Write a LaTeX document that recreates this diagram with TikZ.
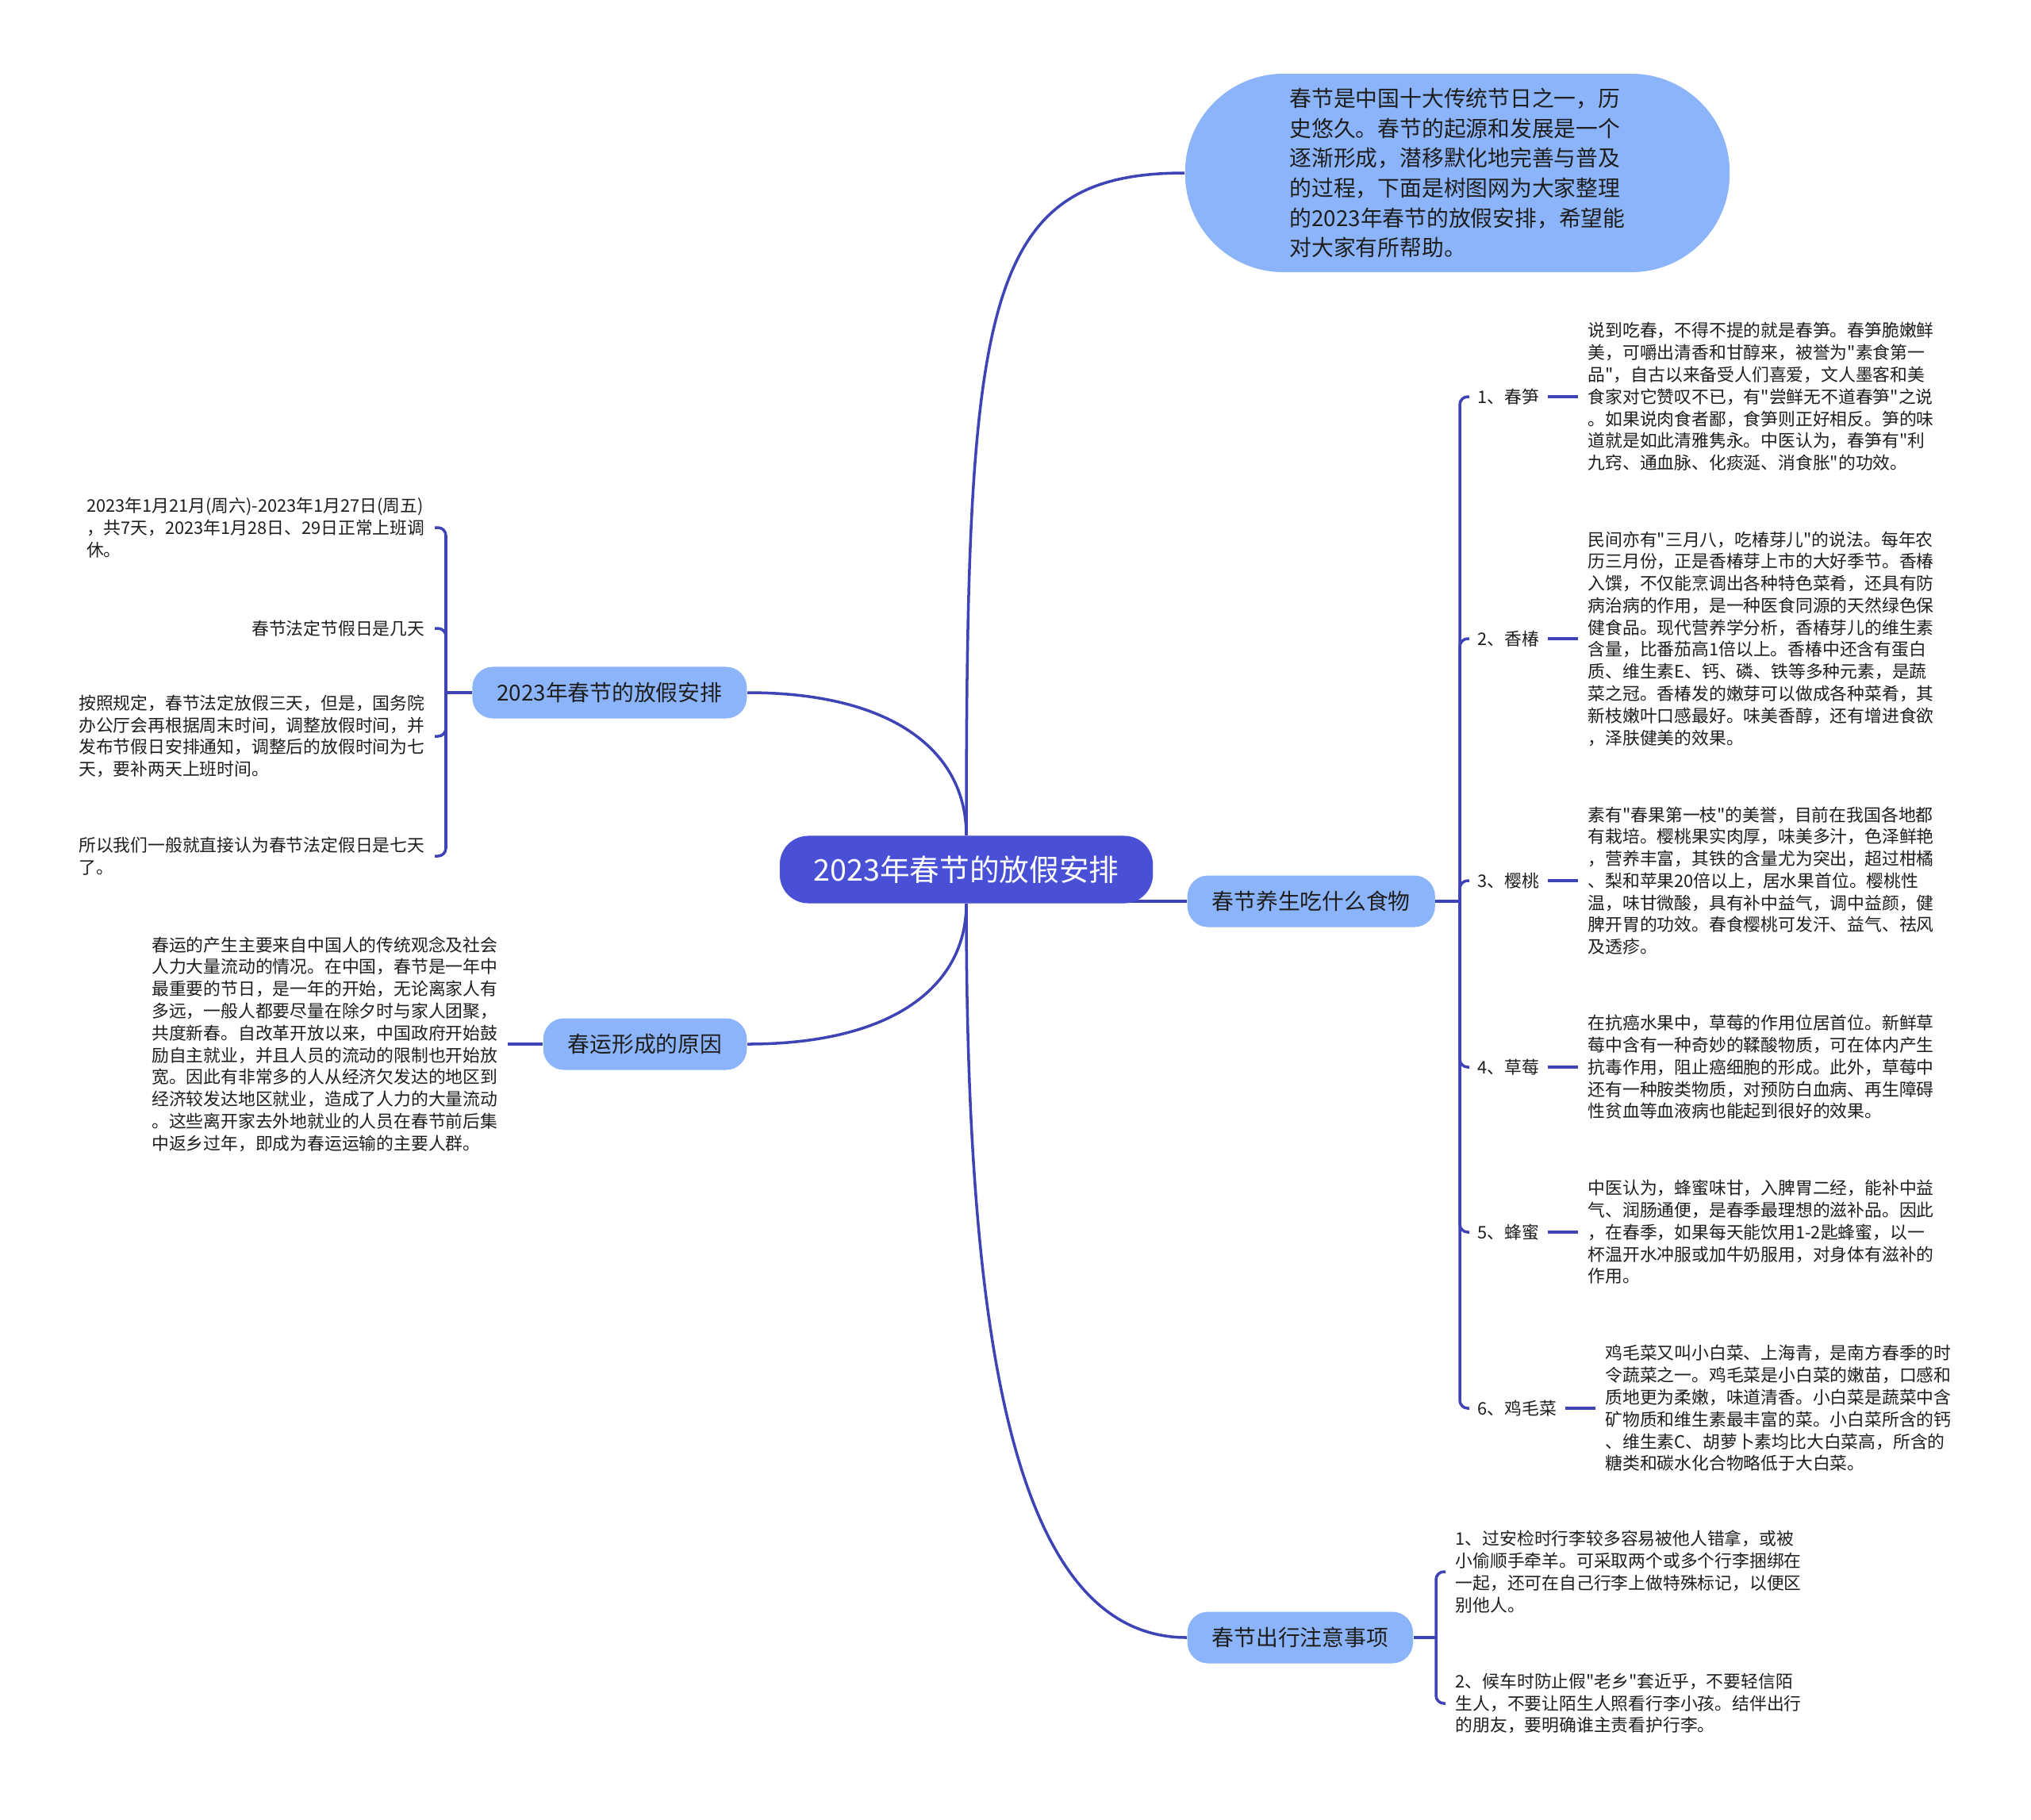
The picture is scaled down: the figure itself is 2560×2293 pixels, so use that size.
\documentclass[tikz,border=0pt]{standalone}
\usepackage{fontspec}
\setmainfont{Noto Sans CJK SC}[Ligatures=TeXOff]
\usetikzlibrary{positioning,backgrounds}
\definecolor{rootblue}{RGB}{74,80,214}
\definecolor{topicblue}{RGB}{140,180,250}
\definecolor{linkblue}{RGB}{62,68,182}
\definecolor{inktext}{RGB}{30,30,30}

\begin{document}
\begin{tikzpicture}[
    x=0.01cm, y=-0.01cm,
    rootnode/.style={
        fill=rootblue, text=white, rounded corners=0.36cm,
        minimum width=4.7cm, minimum height=0.85cm,
        font=\fontsize{10.7}{12}\selectfont
    },
    topic/.style={
        fill=topicblue, text=inktext, rounded corners=0.26cm,
        minimum height=0.65cm, inner xsep=0.31cm,
        font=\fontsize{7.9}{9.5}\selectfont
    },
    introbox/.style={
        fill=topicblue, text=inktext, rounded corners=1.24cm,
        minimum width=6.86cm, minimum height=2.5cm, align=left,
        font=\fontsize{7.9}{10.7}\selectfont
    },
    itemlabel/.style={
        inner xsep=0.1cm, inner ysep=0.02cm, text=inktext,
        font=\fontsize{6.2}{7.9}\selectfont
    },
    leaftext/.style={
        inner xsep=0.12cm, inner ysep=0.02cm, align=left, text=inktext,
        font=\fontsize{6.2}{7.9}\selectfont
    },
    link/.style={draw=linkblue, line width=1pt},
    fork/.style={link, rounded corners=0.1cm},
]
\useasboundingbox (0,0) rectangle (2560,2293);

% ── Root ──
\node[rootnode] (root) at (1218,1096) {2023年春节的放假安排};

% ── Intro bubble ──
\node[introbox] (intro) at (1837,218) {
    春节是中国十大传统节日之一，历\\
    史悠久。春节的起源和发展是一个\\
    逐渐形成，潜移默化地完善与普及\\
    的过程，下面是树图网为大家整理\\
    的2023年春节的放假安排，希望能\\
    对大家有所帮助。
};

% ── Topics ──
\node[topic, anchor=east] (sched) at (942,873) {2023年春节的放假安排};
\node[topic, anchor=east] (rush) at (942,1316) {春运形成的原因};
\node[topic, anchor=west] (food) at (1496,1136) {春节养生吃什么食物};
\node[topic, anchor=west] (travel) at (1496,2064) {春节出行注意事项};

% ── Holiday schedule leaves ──
\coordinate (schedfork) at (562,873);
\node[leaftext, anchor=east] (dates) at (548,665) {
    2023年1月21月(周六)-2023年1月27日(周五)\\
    ，共7天，2023年1月28日、29日正常上班调\\
    休。
};
\node[leaftext, anchor=east] (howmany) at (548,792) {春节法定节假日是几天};
\node[leaftext, anchor=east] (rule) at (548,928) {
    按照规定，春节法定放假三天，但是，国务院\\
    办公厅会再根据周末时间，调整放假时间，并\\
    发布节假日安排通知，调整后的放假时间为七\\
    天，要补两天上班时间。
};
\node[leaftext, anchor=east] (seven) at (548,1079) {
    所以我们一般就直接认为春节法定假日是七天\\
    了。
};

% ── Spring rush leaf ──
\node[leaftext, anchor=east] (rushtxt) at (640,1316) {
    春运的产生主要来自中国人的传统观念及社会\\
    人力大量流动的情况。在中国，春节是一年中\\
    最重要的节日，是一年的开始，无论离家人有\\
    多远，一般人都要尽量在除夕时与家人团聚，\\
    共度新春。自改革开放以来，中国政府开始鼓\\
    励自主就业，并且人员的流动的限制也开始放\\
    宽。因此有非常多的人从经济欠发达的地区到\\
    经济较发达地区就业，造成了人力的大量流动\\
    。这些离开家去外地就业的人员在春节前后集\\
    中返乡过年，即成为春运运输的主要人群。
};

% ── Food items ──
\coordinate (foodfork) at (1840,1136);
\node[itemlabel, anchor=west] (bamboo) at (1852,500) {1、春笋};
\node[leaftext, right=0.38cm of bamboo] (bambootxt) {
    说到吃春，不得不提的就是春笋。春笋脆嫩鲜\\
    美，可嚼出清香和甘醇来，被誉为"素食第一\\
    品"，自古以来备受人们喜爱，文人墨客和美\\
    食家对它赞叹不已，有"尝鲜无不道春笋"之说\\
    。如果说肉食者鄙，食笋则正好相反。笋的味\\
    道就是如此清雅隽永。中医认为，春笋有"利\\
    九窍、通血脉、化痰涎、消食胀"的功效。
};
\node[itemlabel, anchor=west] (toon) at (1852,805) {2、香椿};
\node[leaftext, right=0.38cm of toon] (toontxt) {
    民间亦有"三月八，吃椿芽儿"的说法。每年农\\
    历三月份，正是香椿芽上市的大好季节。香椿\\
    入馔，不仅能烹调出各种特色菜肴，还具有防\\
    病治病的作用，是一种医食同源的天然绿色保\\
    健食品。现代营养学分析，香椿芽儿的维生素\\
    含量，比番茄高1倍以上。香椿中还含有蛋白\\
    质、维生素E、钙、磷、铁等多种元素，是蔬\\
    菜之冠。香椿发的嫩芽可以做成各种菜肴，其\\
    新枝嫩叶口感最好。味美香醇，还有增进食欲\\
    ，泽肤健美的效果。
};
\node[itemlabel, anchor=west] (cherry) at (1852,1110) {3、樱桃};
\node[leaftext, right=0.38cm of cherry] (cherrytxt) {
    素有"春果第一枝"的美誉，目前在我国各地都\\
    有栽培。樱桃果实肉厚，味美多汁，色泽鲜艳\\
    ，营养丰富，其铁的含量尤为突出，超过柑橘\\
    、梨和苹果20倍以上，居水果首位。樱桃性\\
    温，味甘微酸，具有补中益气，调中益颜，健\\
    脾开胃的功效。春食樱桃可发汗、益气、祛风\\
    及透疹。
};
\node[itemlabel, anchor=west] (berry) at (1852,1345) {4、草莓};
\node[leaftext, right=0.38cm of berry] (berrytxt) {
    在抗癌水果中，草莓的作用位居首位。新鲜草\\
    莓中含有一种奇妙的鞣酸物质，可在体内产生\\
    抗毒作用，阻止癌细胞的形成。此外，草莓中\\
    还有一种胺类物质，对预防白血病、再生障碍\\
    性贫血等血液病也能起到很好的效果。
};
\node[itemlabel, anchor=west] (honey) at (1852,1553) {5、蜂蜜};
\node[leaftext, right=0.38cm of honey] (honeytxt) {
    中医认为，蜂蜜味甘，入脾胃二经，能补中益\\
    气、润肠通便，是春季最理想的滋补品。因此\\
    ，在春季，如果每天能饮用1-2匙蜂蜜，以一\\
    杯温开水冲服或加牛奶服用，对身体有滋补的\\
    作用。
};
\node[itemlabel, anchor=west] (greens) at (1852,1775) {6、鸡毛菜};
\node[leaftext, right=0.38cm of greens] (greenstxt) {
    鸡毛菜又叫小白菜、上海青，是南方春季的时\\
    令蔬菜之一。鸡毛菜是小白菜的嫩苗，口感和\\
    质地更为柔嫩，味道清香。小白菜是蔬菜中含\\
    矿物质和维生素最丰富的菜。小白菜所含的钙\\
    、维生素C、胡萝卜素均比大白菜高，所含的\\
    糖类和碳水化合物略低于大白菜。
};

% ── Travel tips ──
\coordinate (travelfork) at (1810,2064);
\node[leaftext, anchor=west] (luggage) at (1822,1981) {
    1、过安检时行李较多容易被他人错拿，或被\\
    小偷顺手牵羊。可采取两个或多个行李捆绑在\\
    一起，还可在自己行李上做特殊标记，以便区\\
    别他人。
};
\node[leaftext, anchor=west] (stranger) at (1822,2147) {
    2、候车时防止假"老乡"套近乎，不要轻信陌\\
    生人，不要让陌生人照看行李小孩。结伴出行\\
    的朋友，要明确谁主责看护行李。
};

% ── Links ──
\begin{scope}[on background layer]
\draw[link] (root.north) .. controls (1218,380) and (1240,218) .. (intro.west);
\draw[link] (root.north) .. controls (1218,950) and (1130,873) .. (sched.east);
\draw[link] (root.south) .. controls (1218,1240) and (1130,1316) .. (rush.east);
\draw[link] (root.south) .. controls (1218,1700) and (1280,2064) .. (travel.west);
\draw[link] (root.center |- food.west) -- (food.west);

\draw[link] (sched.west) -- (schedfork);
\foreach \leaf in {dates,howmany,rule,seven}
    \draw[fork] (schedfork) |- (\leaf.east);

\draw[link] (rush.west) -- (rushtxt.east);

\draw[link] (food.east) -- (foodfork);
\foreach \item in {bamboo,toon,cherry,berry,honey,greens} {
    \draw[fork] (foodfork) |- (\item.west);
    \draw[link] (\item.east) -- (\item txt.west);
}

\draw[link] (travel.east) -- (travelfork);
\foreach \tip in {luggage,stranger}
    \draw[fork] (travelfork) |- (\tip.west);
\end{scope}

\end{tikzpicture}
\end{document}
